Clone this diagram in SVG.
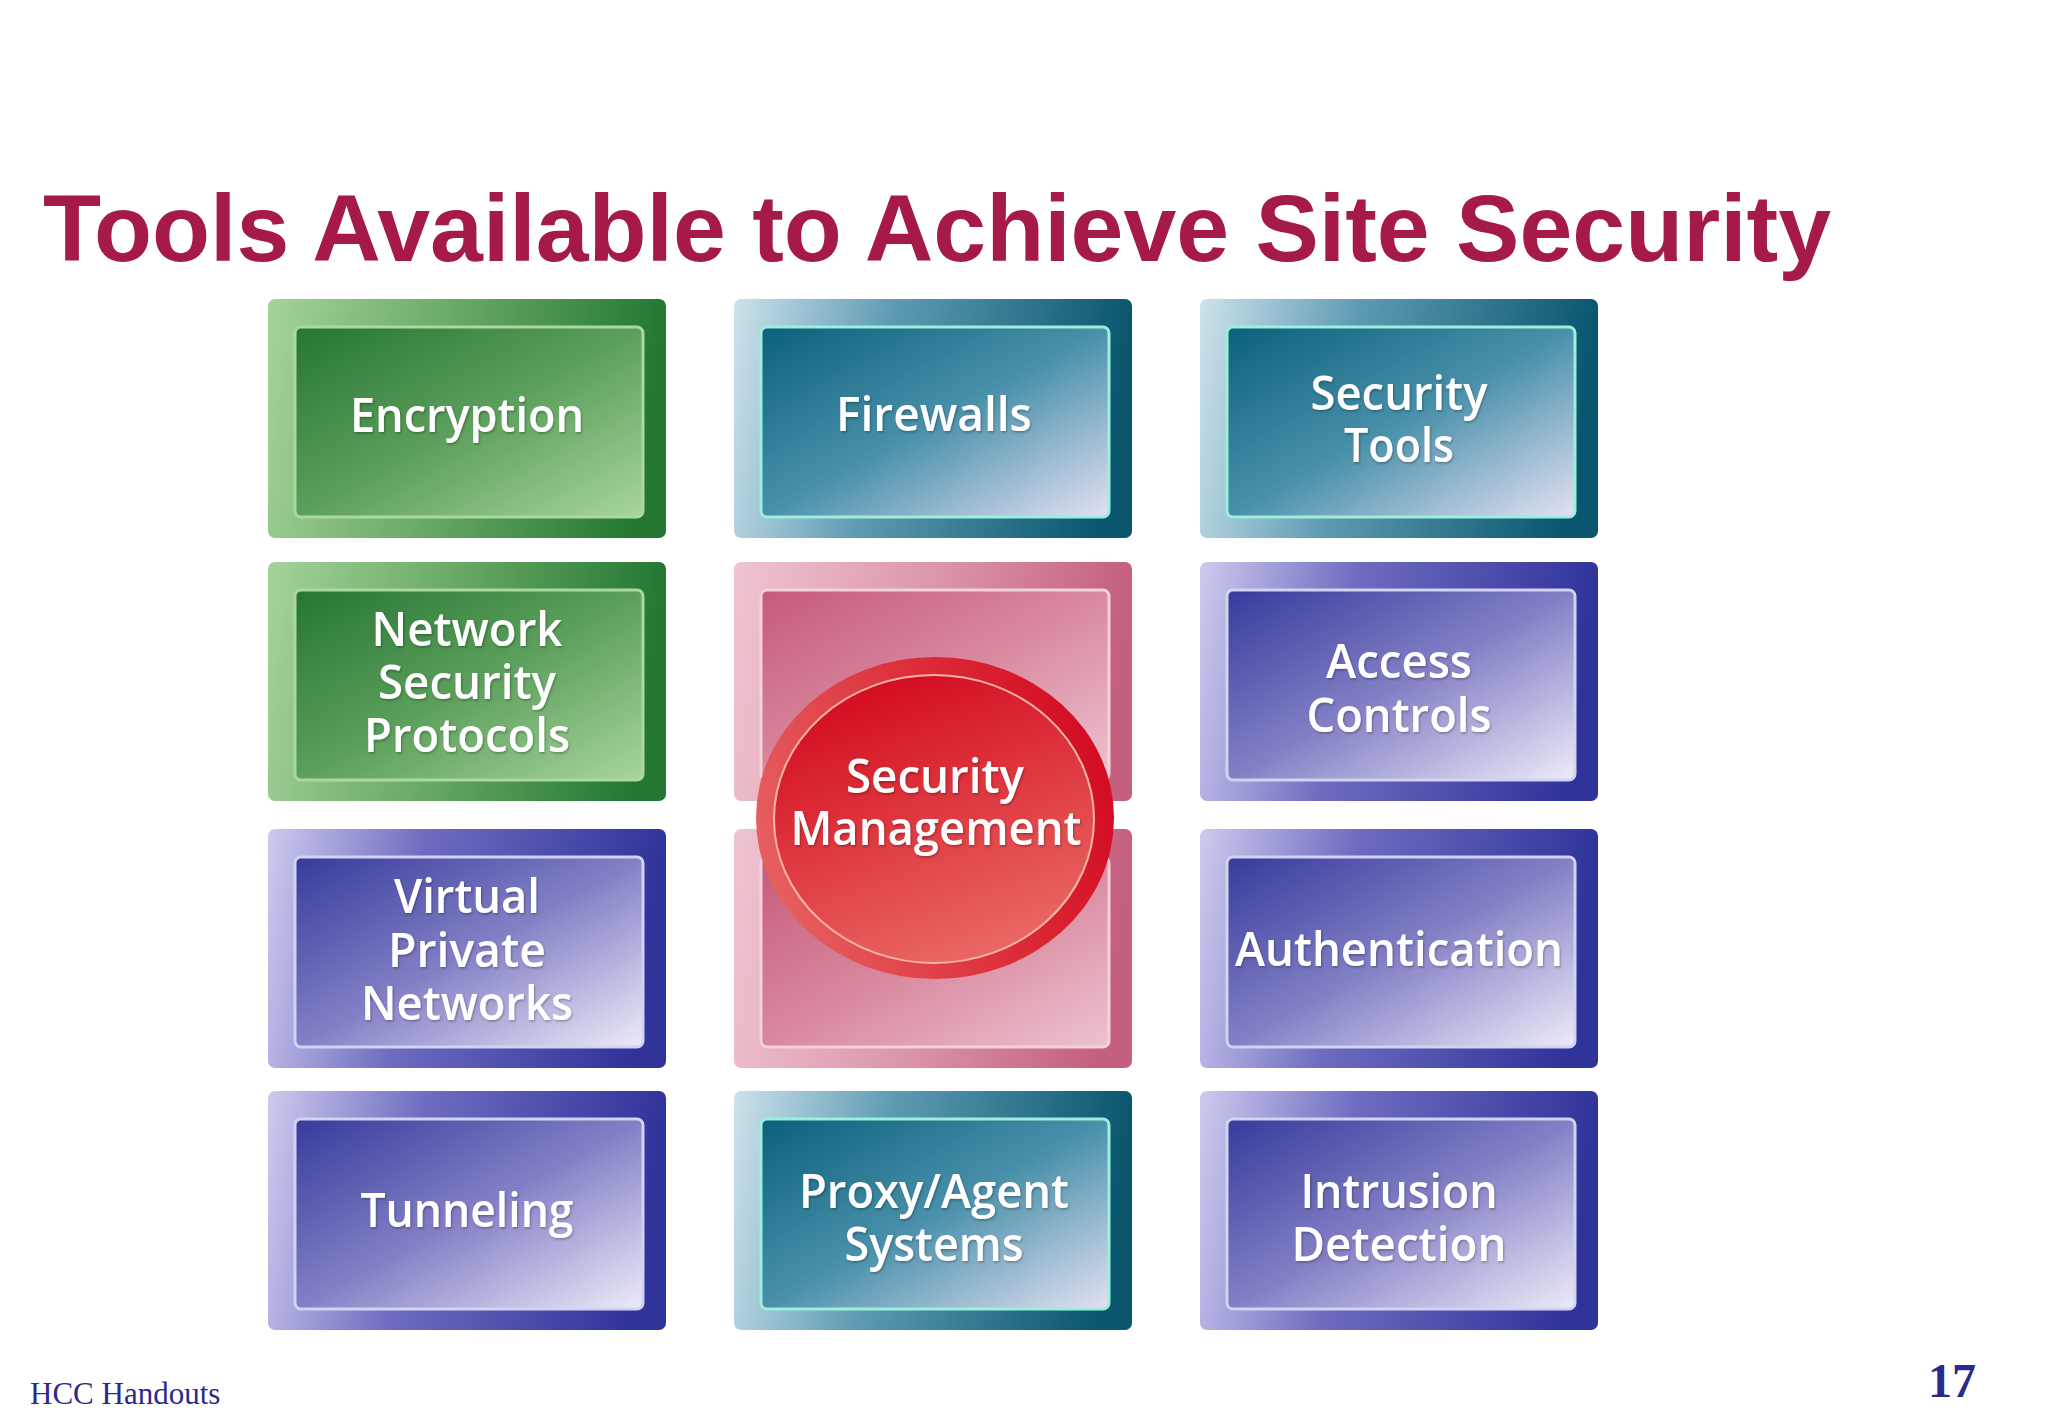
<svg xmlns="http://www.w3.org/2000/svg" width="2048" height="1418" viewBox="0 0 2048 1418">
<defs>
<linearGradient id="gOut" x1="0" y1="0" x2="1" y2="0.1"><stop offset="0" stop-color="#a4d39a"/><stop offset="0.45" stop-color="#6cab68"/><stop offset="1" stop-color="#237733"/></linearGradient>
<linearGradient id="gIn" x1="0" y1="0" x2="1" y2="1"><stop offset="0" stop-color="#257532"/><stop offset="0.5" stop-color="#5c9f5c"/><stop offset="1" stop-color="#a8d59d"/></linearGradient>
<linearGradient id="tOut" x1="0" y1="0" x2="1" y2="0.1"><stop offset="0" stop-color="#cde2ec"/><stop offset="0.4" stop-color="#5e9bb3"/><stop offset="1" stop-color="#09566e"/></linearGradient>
<linearGradient id="tIn" x1="0" y1="0" x2="1" y2="1"><stop offset="0" stop-color="#0b607c"/><stop offset="0.5" stop-color="#4990aa"/><stop offset="1" stop-color="#e4e1f3"/></linearGradient>
<linearGradient id="bOut" x1="0" y1="0" x2="1" y2="0.1"><stop offset="0" stop-color="#cccbee"/><stop offset="0.4" stop-color="#6e6bc0"/><stop offset="1" stop-color="#30339a"/></linearGradient>
<linearGradient id="bIn" x1="0" y1="0" x2="1" y2="1"><stop offset="0" stop-color="#373a9c"/><stop offset="0.5" stop-color="#8280c5"/><stop offset="1" stop-color="#ecebf8"/></linearGradient>
<linearGradient id="pOut" x1="0" y1="0" x2="1" y2="0.1"><stop offset="0" stop-color="#efc4d0"/><stop offset="0.5" stop-color="#dc97ab"/><stop offset="1" stop-color="#c45f7d"/></linearGradient>
<linearGradient id="pIn" x1="0" y1="0" x2="1" y2="1"><stop offset="0" stop-color="#c65a7b"/><stop offset="0.5" stop-color="#d9899f"/><stop offset="1" stop-color="#ecc2cf"/></linearGradient>
<linearGradient id="rOut" x1="0" y1="0.6" x2="1" y2="0.3"><stop offset="0" stop-color="#e66060"/><stop offset="0.6" stop-color="#dc2a36"/><stop offset="1" stop-color="#d20a20"/></linearGradient>
<linearGradient id="rIn" x1="0.3" y1="0" x2="0.7" y2="1"><stop offset="0" stop-color="#d30a1e"/><stop offset="0.5" stop-color="#df3a42"/><stop offset="1" stop-color="#ea6c66"/></linearGradient>
<filter id="sh" x="-10%" y="-20%" width="120%" height="140%"><feDropShadow dx="1" dy="1.5" stdDeviation="1" flood-color="#000" flood-opacity="0.3"/></filter>
</defs>
<style>
.title{font-family:"Liberation Sans",Arial,sans-serif;font-weight:bold;font-size:94px;fill:#a6194b}
.lbl{font-family:"Open Sans","Noto Sans",sans-serif;font-weight:600;font-size:47px;fill:#ffffff;text-anchor:middle;filter:url(#sh)}
.foot{font-family:"Liberation Serif","Times New Roman",serif;fill:#2a2a8c}
.g .o{fill:url(#gOut)} .g .i{fill:url(#gIn);stroke:#a9d9a0;stroke-width:3}
.t .o{fill:url(#tOut)} .t .i{fill:url(#tIn);stroke:#9ceedd;stroke-width:3}
.b .o{fill:url(#bOut)} .b .i{fill:url(#bIn);stroke:#d2d2f2;stroke-width:3}
.p .o{fill:url(#pOut)} .p .i{fill:url(#pIn);stroke:#f1d2da;stroke-width:3}
</style>
<rect width="2048" height="1418" fill="#ffffff"/>
<text class="title" x="43" y="261" textLength="1788" lengthAdjust="spacingAndGlyphs">Tools Available to Achieve Site Security</text>

<g id="encryption" class="g"><rect class="o" x="268" y="299" width="398" height="239" rx="7"/><rect class="i" x="295" y="327" width="348" height="190" rx="6"/>
<text class="lbl" x="467" y="432" textLength="234" lengthAdjust="spacingAndGlyphs">Encryption</text></g>
<g id="firewalls" class="t"><rect class="o" x="734" y="299" width="398" height="239" rx="7"/><rect class="i" x="761" y="327" width="348" height="190" rx="6"/>
<text class="lbl" x="934" y="431" textLength="196" lengthAdjust="spacingAndGlyphs">Firewalls</text></g>
<g id="security-tools" class="t"><rect class="o" x="1200" y="299" width="398" height="239" rx="7"/><rect class="i" x="1227" y="327" width="348" height="190" rx="6"/>
<text class="lbl" x="1399" y="410" textLength="177" lengthAdjust="spacingAndGlyphs">Security</text><text class="lbl" x="1399" y="462" textLength="110" lengthAdjust="spacingAndGlyphs">Tools</text></g>

<g id="network-security-protocols" class="g"><rect class="o" x="268" y="562" width="398" height="239" rx="7"/><rect class="i" x="295" y="590" width="348" height="190" rx="6"/>
<text class="lbl" x="467" y="646" textLength="191" lengthAdjust="spacingAndGlyphs">Network</text><text class="lbl" x="467" y="699" textLength="178" lengthAdjust="spacingAndGlyphs">Security</text><text class="lbl" x="467" y="752" textLength="206" lengthAdjust="spacingAndGlyphs">Protocols</text></g>
<g id="access-controls" class="b"><rect class="o" x="1200" y="562" width="398" height="239" rx="7"/><rect class="i" x="1227" y="590" width="348" height="190" rx="6"/>
<text class="lbl" x="1399" y="678" textLength="146" lengthAdjust="spacingAndGlyphs">Access</text><text class="lbl" x="1399" y="732" textLength="185" lengthAdjust="spacingAndGlyphs">Controls</text></g>

<g id="virtual-private-networks" class="b"><rect class="o" x="268" y="829" width="398" height="239" rx="7"/><rect class="i" x="295" y="857" width="348" height="190" rx="6"/>
<text class="lbl" x="467" y="913" textLength="146" lengthAdjust="spacingAndGlyphs">Virtual</text><text class="lbl" x="467" y="967" textLength="158" lengthAdjust="spacingAndGlyphs">Private</text><text class="lbl" x="467" y="1020" textLength="212" lengthAdjust="spacingAndGlyphs">Networks</text></g>
<g id="authentication" class="b"><rect class="o" x="1200" y="829" width="398" height="239" rx="7"/><rect class="i" x="1227" y="857" width="348" height="190" rx="6"/>
<text class="lbl" x="1399" y="966" textLength="328" lengthAdjust="spacingAndGlyphs">Authentication</text></g>

<g id="tunneling" class="b"><rect class="o" x="268" y="1091" width="398" height="239" rx="7"/><rect class="i" x="295" y="1119" width="348" height="190" rx="6"/>
<text class="lbl" x="467" y="1227" textLength="213" lengthAdjust="spacingAndGlyphs">Tunneling</text></g>
<g id="proxy-agent-systems" class="t"><rect class="o" x="734" y="1091" width="398" height="239" rx="7"/><rect class="i" x="761" y="1119" width="348" height="190" rx="6"/>
<text class="lbl" x="934" y="1208" textLength="270" lengthAdjust="spacingAndGlyphs">Proxy/Agent</text><text class="lbl" x="934" y="1261" textLength="179" lengthAdjust="spacingAndGlyphs">Systems</text></g>
<g id="intrusion-detection" class="b"><rect class="o" x="1200" y="1091" width="398" height="239" rx="7"/><rect class="i" x="1227" y="1119" width="348" height="190" rx="6"/>
<text class="lbl" x="1399" y="1208" textLength="197" lengthAdjust="spacingAndGlyphs">Intrusion</text><text class="lbl" x="1399" y="1261" textLength="215" lengthAdjust="spacingAndGlyphs">Detection</text></g>

<g id="security-management">
<g class="p"><rect class="o" x="734" y="562" width="398" height="239" rx="7"/><rect class="i" x="761" y="590" width="348" height="190" rx="6"/></g>
<g class="p"><rect class="o" x="734" y="829" width="398" height="239" rx="7"/><rect class="i" x="761" y="857" width="348" height="190" rx="6"/></g>
<ellipse cx="935" cy="818" rx="179" ry="161" fill="url(#rOut)"/>
<ellipse cx="934" cy="819" rx="160" ry="144" fill="url(#rIn)" stroke="#f7b3aa" stroke-width="2"/>
<text class="lbl" x="935" y="793" textLength="178" lengthAdjust="spacingAndGlyphs">Security</text>
<text class="lbl" x="936" y="845" textLength="291" lengthAdjust="spacingAndGlyphs">Management</text>
</g>

<text class="foot" x="30" y="1404" font-size="31">HCC Handouts</text>
<text class="foot" x="1976" y="1397" font-size="48" font-weight="bold" text-anchor="end">17</text>
</svg>
